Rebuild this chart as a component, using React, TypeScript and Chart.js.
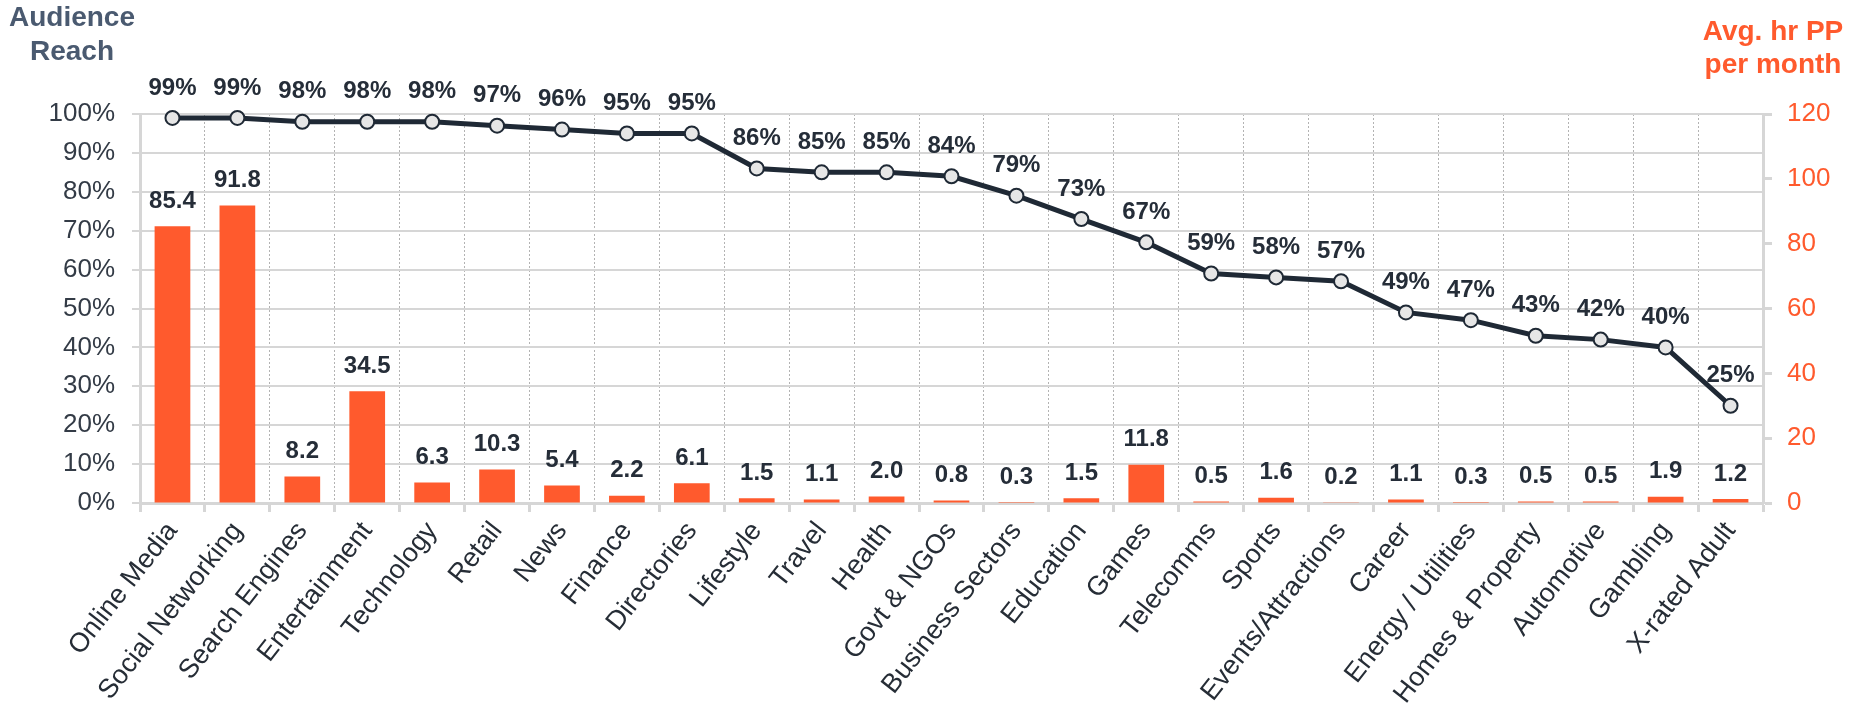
import React, { useEffect, useRef } from "react";
import { Chart, registerables } from "chart.js";

Chart.register(...registerables);

const categories = [
  "Online Media", "Social Networking", "Search Engines", "Entertainment", "Technology",
  "Retail", "News", "Finance", "Directories", "Lifestyle", "Travel", "Health",
  "Govt & NGOs", "Business Sectors", "Education", "Games", "Telecomms", "Sports",
  "Events/Attractions", "Career", "Energy / Utilities", "Homes & Property",
  "Automotive", "Gambling", "X-rated Adult",
];
const audienceReach = [99, 99, 98, 98, 98, 97, 96, 95, 95, 86, 85, 85, 84, 79, 73, 67, 59, 58, 57, 49, 47, 43, 42, 40, 25];
const avgHours = [85.4, 91.8, 8.2, 34.5, 6.3, 10.3, 5.4, 2.2, 6.1, 1.5, 1.1, 2.0, 0.8, 0.3, 1.5, 11.8, 0.5, 1.6, 0.2, 1.1, 0.3, 0.5, 0.5, 1.9, 1.2];
const reachAxis = { min: 0, max: 100, step: 10 };
const hoursAxis = { min: 0, max: 120, step: 20 };

const FONT = '"Liberation Sans", Arial, Helvetica, sans-serif';
const ORANGE = "#ff5a2d";
const DARK = "#1f2935";
const GRID = "#d6d6d6";

const valueLabels = {
  id: "valueLabels",
  afterDatasetsDraw(chart: any) {
    const ctx = chart.ctx;
    ctx.save();
    ctx.font = `bold 24px ${FONT}`;
    ctx.fillStyle = "#252d38";
    ctx.textAlign = "center";
    ctx.textBaseline = "middle";
    chart.data.datasets.forEach((ds: any, i: number) => {
      const meta = chart.getDatasetMeta(i);
      meta.data.forEach((el: any, j: number) => {
        const v = ds.data[j];
        const isLine = ds.type === "line";
        const text = isLine ? `${v}%` : Number(v).toFixed(1);
        ctx.fillText(text, el.x, el.y - (isLine ? 30 : 25));
      });
    });
    ctx.restore();
  },
};

export default function App() {
  const ref = useRef<HTMLCanvasElement | null>(null);

  useEffect(() => {
    if (!ref.current) return;
    const chart = new Chart(ref.current, {
      data: {
        labels: categories,
        datasets: [
          {
            type: "line",
            label: "Audience Reach",
            data: audienceReach,
            yAxisID: "y",
            borderColor: DARK,
            borderWidth: 5,
            pointRadius: 7,
            pointBackgroundColor: "#e6e6e6",
            pointBorderColor: DARK,
            pointBorderWidth: 2,
            tension: 0,
            clip: false,
            order: 0,
          } as any,
          {
            type: "bar",
            label: "Avg. hr PP per month",
            data: avgHours,
            yAxisID: "y1",
            backgroundColor: ORANGE,
            barPercentage: 0.55,
            categoryPercentage: 1,
            order: 1,
          } as any,
        ],
      },
      options: {
        responsive: false,
        animation: false,
        devicePixelRatio: 1,
        layout: { padding: { top: 114, left: 0, right: 0, bottom: 0 } },
        plugins: { legend: { display: false }, tooltip: { enabled: false } },
        scales: {
          x: {
            type: "category",
            offset: true,
            grid: {
              offset: true,
              color: "#b3b3b3",
              lineWidth: 1,
              drawTicks: true,
              tickLength: 9,
              tickColor: GRID,
              tickWidth: 3,
            },
            border: { display: true, color: GRID, width: 3, dash: [2, 2] },
            ticks: {
              autoSkip: false,
              minRotation: 52,
              maxRotation: 52,
              padding: 4,
              color: "#262d36",
              font: { family: FONT, size: 27 },
            },
            afterFit: (s: any) => { s.height = 209; },
          },
          y: {
            position: "left",
            min: reachAxis.min,
            max: reachAxis.max,
            ticks: {
              stepSize: reachAxis.step,
              callback: (v: any) => `${v}%`,
              color: "#333b46",
              padding: 17,
              font: { family: FONT, size: 26 },
            },
            grid: { color: GRID, lineWidth: 2, tickLength: 8, tickColor: GRID, tickWidth: 2 },
            border: { display: true, color: GRID, width: 3 },
            afterFit: (s: any) => { s.width = 140; },
          },
          y1: {
            position: "right",
            min: hoursAxis.min,
            max: hoursAxis.max,
            ticks: {
              stepSize: hoursAxis.step,
              color: ORANGE,
              padding: 15,
              font: { family: FONT, size: 26 },
            },
            grid: { drawOnChartArea: false, tickLength: 9, tickColor: GRID, tickWidth: 3 },
            border: { display: true, color: GRID, width: 3 },
            afterFit: (s: any) => { s.width = 96; },
          },
        },
      } as any,
      plugins: [valueLabels],
    });
    return () => chart.destroy();
  }, []);

  const titleBase: React.CSSProperties = {
    position: "absolute",
    fontFamily: FONT,
    fontWeight: "bold",
    fontSize: 28,
    lineHeight: "34px",
    textAlign: "center",
    whiteSpace: "nowrap",
  };

  return (
    <div style={{ position: "fixed", left: 0, top: 0, width: 1859, height: 712, background: "#fff" }}>
      <canvas ref={ref} width={1859} height={712} style={{ display: "block", width: 1859, height: 712 }} />
      <div style={{ ...titleBase, left: 0, width: 144, top: 0, color: "#4a5a70" }}>
        Audience<br />Reach
      </div>
      <div style={{ ...titleBase, left: 1673, width: 200, top: 14, color: ORANGE, lineHeight: "33px" }}>
        Avg. hr PP<br />per month
      </div>
    </div>
  );
}
